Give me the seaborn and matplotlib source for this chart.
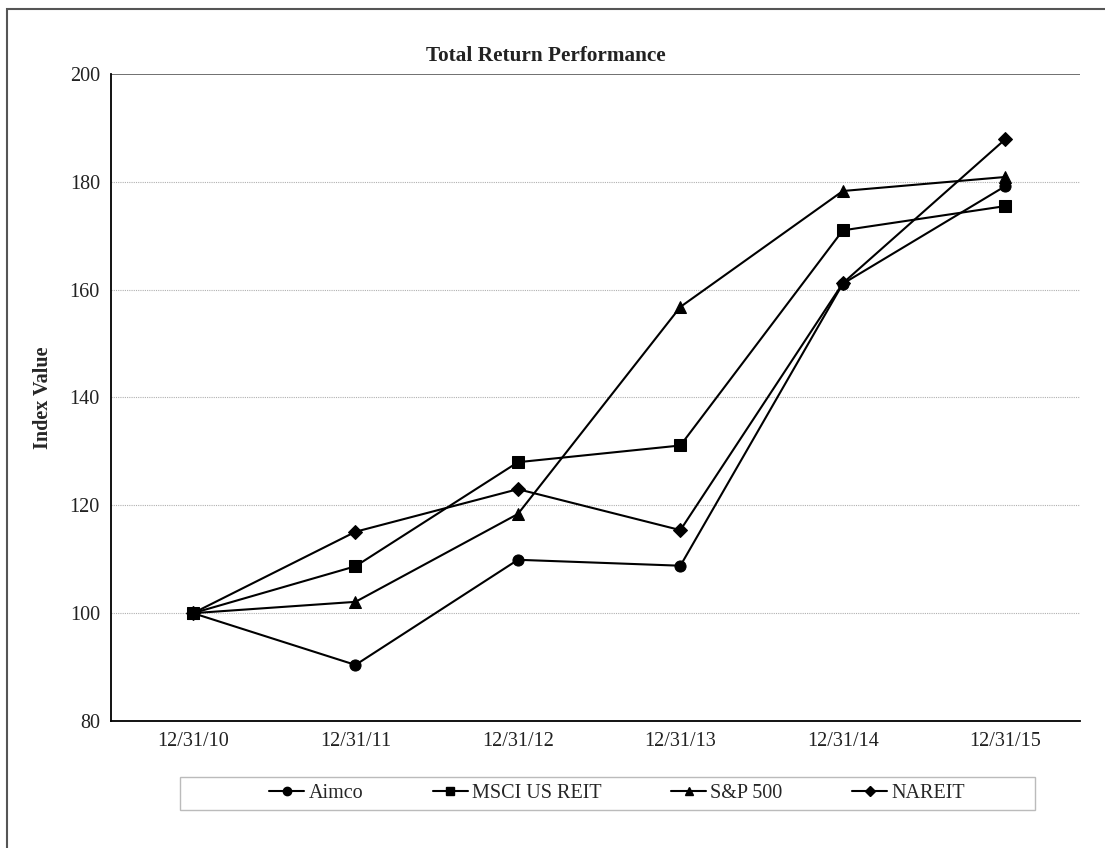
"""
Total Return Performance: Aimco vs MSCI US REIT, S&P 500 and NAREIT indices.

Output: out.png
"""

import matplotlib.pyplot as plt
import pandas as pd
import seaborn as sns
from matplotlib.patches import Rectangle

DATES = ["12/31/10", "12/31/11", "12/31/12", "12/31/13", "12/31/14", "12/31/15"]
SERIES = ["Aimco", "MSCI US REIT", "S&P 500", "NAREIT"]
AIMCO = [100.0, 90.4, 109.9, 108.8, 161.1, 179.2]
MSCI = [100.0, 108.7, 128.0, 131.1, 171.0, 175.5]
SP500 = [100.0, 102.1, 118.4, 156.8, 178.3, 180.9]
NAREIT = [100.0, 115.1, 123.0, 115.4, 161.2, 187.9]
MARKERS = ["o", "s", "^", "D"]
Y_TICKS = [80, 100, 120, 140, 160, 180, 200]


def main() -> None:
    values = [AIMCO, MSCI, SP500, NAREIT]
    rows = []
    for name, vals in zip(SERIES, values):
        for i, v in enumerate(vals):
            rows.append({"pos": i, "value": v, "series": name})
    df = pd.DataFrame(rows)

    sns.set_style("white")
    plt.rcParams["font.family"] = ["Liberation Serif", "DejaVu Serif"]

    fig = plt.figure(figsize=(11.05, 8.48), dpi=100)
    ax = fig.add_axes([111 / 1105, 1 - 721 / 848, (1080 - 111) / 1105, (721 - 74) / 848])

    sns.lineplot(
        data=df, x="pos", y="value", hue="series", style="series",
        hue_order=SERIES, style_order=SERIES,
        palette=["black"] * 4, markers=MARKERS, dashes=False,
        markersize=8, markeredgecolor="black", linewidth=1.5,
        legend=False, ax=ax,
    )
    # diamonds look smaller at the same size
    for line, m in zip(ax.get_lines(), MARKERS):
        if m == "D":
            line.set_markersize(7)

    ax.set_xlim(-0.505, 5.46)
    ax.set_ylim(80, 200)
    ax.set_xticks(range(len(DATES)))
    ax.set_xticklabels(DATES)
    ax.set_yticks(Y_TICKS)
    ax.tick_params(axis="both", labelsize=14.5, colors="#222222")
    ax.tick_params(axis="y", length=5, width=0.8, color="#444444", pad=3)
    ax.tick_params(axis="x", length=4, width=0.8, color="#888888", pad=4)
    ax.set_xlabel("")
    ax.set_ylabel("Index Value", fontsize=14.5, fontweight="bold")
    ax.yaxis.set_label_coords(-58 / 969, 0.5)

    for y in Y_TICKS[1:-1]:
        ax.axhline(y, color="#b0b0b0", linewidth=0.8, linestyle=(0, (1, 1)), zorder=0)
    ax.axhline(200, color="#707070", linewidth=1.4, zorder=0)

    for side in ("top", "right"):
        ax.spines[side].set_visible(False)
    for side in ("left", "bottom"):
        ax.spines[side].set_color("black")
        ax.spines[side].set_linewidth(1.3)

    fig.text(546 / 1105, 1 - 56 / 848, "Total Return Performance",
             ha="center", va="center", fontsize=15.3, fontweight="bold",
             color="#222222")

    # outer frame
    fig.patches.append(Rectangle((7 / 1105, -0.1), 1.2, 1 - 9 / 848 + 0.1,
                                 transform=fig.transFigure, fill=False,
                                 edgecolor="#555555", linewidth=1.5))
    # legend box
    fig.patches.append(Rectangle((180 / 1105, 1 - 810 / 848), (1035 - 180) / 1105,
                                 (810 - 777) / 848, transform=fig.transFigure,
                                 fill=False, edgecolor="#bbbbbb", linewidth=1.0))

    handles = [plt.Line2D([], [], color="black", marker=m, linewidth=1.5,
                          markersize=6 if m != "D" else 5) for m in MARKERS]
    fig.legend(handles, SERIES, loc="center", ncol=4, frameon=False,
               bbox_to_anchor=(617 / 1105, 1 - 793.5 / 848),
               fontsize=14.5, handlelength=1.75, handletextpad=0.2,
               columnspacing=3.45)

    fig.savefig("out.png", dpi=100)
    plt.close(fig)


if __name__ == "__main__":
    main()
